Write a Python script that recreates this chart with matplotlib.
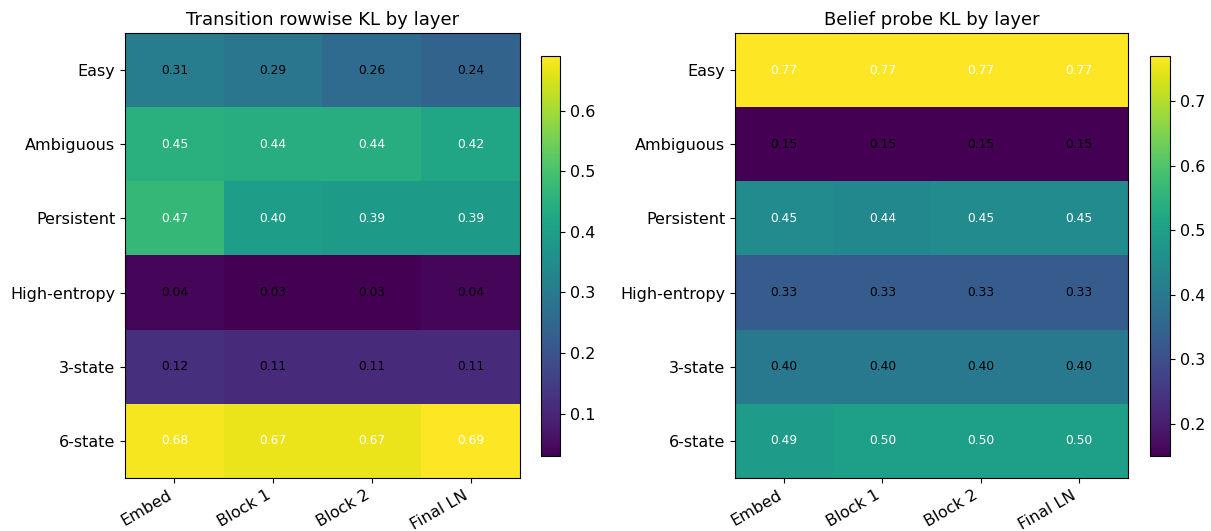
import numpy as np
import matplotlib
matplotlib.use("Agg")
import matplotlib.pyplot as plt

layers = ["Embed", "Block 1", "Block 2", "Final LN"]
tasks = ["Easy", "Ambiguous", "Persistent", "High-entropy", "3-state", "6-state"]

transition_kl = [
    [0.31, 0.29, 0.26, 0.24],
    [0.45, 0.44, 0.44, 0.42],
    [0.47, 0.40, 0.39, 0.39],
    [0.04, 0.03, 0.03, 0.04],
    [0.12, 0.11, 0.11, 0.11],
    [0.68, 0.67, 0.67, 0.69],
]

belief_kl = [
    [0.77, 0.77, 0.77, 0.77],
    [0.15, 0.15, 0.15, 0.15],
    [0.45, 0.44, 0.45, 0.45],
    [0.33, 0.33, 0.33, 0.33],
    [0.40, 0.40, 0.40, 0.40],
    [0.49, 0.50, 0.50, 0.50],
]

titles = ["Transition rowwise KL by layer", "Belief probe KL by layer"]

W, H = 1211, 531
fig = plt.figure(figsize=(W / 100, H / 100), dpi=100)


def px_axes(x0, y0, x1, y1):
    return fig.add_axes([x0 / W, 1 - y1 / H, (x1 - x0) / W, (y1 - y0) / H])


panels = [
    (transition_kl, (125, 33, 520, 478), (541, 56, 560, 456)),
    (belief_kl, (735, 33, 1128, 478), (1150, 56, 1170, 456)),
]

for (values, box, cbox), title in zip(panels, titles):
    data = np.array(values)
    ax = px_axes(*box)
    cax = px_axes(*cbox)
    im = ax.imshow(data, cmap="viridis", aspect="auto")
    thresh = data.mean()
    for i in range(data.shape[0]):
        for j in range(data.shape[1]):
            ax.text(j, i, f"{data[i, j]:.2f}", ha="center", va="center",
                    fontsize=8.8, color="white" if data[i, j] > thresh else "black")
    ax.set_xticks(range(len(layers)))
    ax.set_xticklabels(layers, rotation=30, ha="right", fontsize=11.5)
    ax.set_yticks(range(len(tasks)))
    ax.set_yticklabels(tasks, fontsize=11.5)
    ax.set_title(title, fontsize=13, pad=6)
    cb = fig.colorbar(im, cax=cax)
    cb.ax.tick_params(labelsize=11.5)

fig.savefig("out.png", dpi=100)
